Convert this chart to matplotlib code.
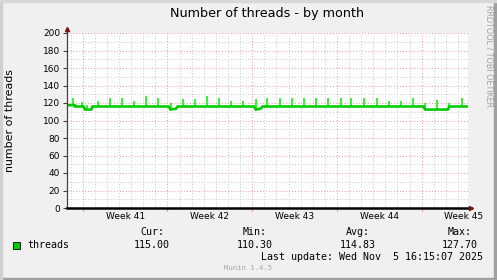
import numpy as np
import matplotlib
matplotlib.use("Agg")
import matplotlib.pyplot as plt
from matplotlib.patches import Rectangle

# time axis in days, 0 = start of week 41
week_numbers = [41, 42, 43, 44, 45]
x_range = (-1.30, 31.83)

# averaged thread count (piecewise line)
base_t = [-1.30, -0.65, -0.64, 0.05, 0.20, 0.70, 0.80, 7.10, 7.25, 7.70, 7.85,
          14.15, 14.30, 14.70, 14.85, 28.15, 28.30, 30.15, 30.30, 31.83]
base_v = [117.5, 117.5, 116.0, 116.0, 112.5, 112.5, 116.0, 116.0, 112.5, 113.5, 116.0,
          116.0, 112.5, 113.5, 116.0, 116.0, 112.5, 112.5, 116.0, 116.0]

# short daily peaks
spike_t = [-0.80, -0.06, 0.35, 1.26, 2.25, 3.25, 4.24, 5.23, 6.22, 7.30, 8.28, 9.27,
           10.27, 11.26, 12.25, 13.24, 14.30, 15.20, 16.30, 17.30, 18.30, 19.30, 20.30,
           21.30, 22.20, 23.20, 24.30, 25.30, 26.30, 27.30, 28.30, 29.30, 30.30, 31.30]
spike_v = [125.7, 121.0, 118.0, 122.3, 125.5, 125.5, 122.3, 127.7, 125.5, 120.0, 125.0, 125.0,
           127.5, 126.0, 122.0, 122.0, 124.6, 126.0, 126.0, 126.0, 126.0, 126.0, 126.0,
           126.0, 126.0, 126.0, 126.0, 122.6, 122.6, 126.0, 120.0, 124.0, 120.0, 126.0]

legend_cols = ["Cur:", "Min:", "Avg:", "Max:"]
legend_vals = ["115.00", "110.30", "114.83", "127.70"]

W, H = 497, 280
fig = plt.figure(figsize=(W / 100, H / 100), dpi=100, facecolor="#f0f0f0")

def px(x, y):
    return x / W, 1 - y / H

# frame
fig.add_artist(Rectangle((0, 0), 1, 2 / H, transform=fig.transFigure, color="#a0a0a0", zorder=0))
fig.add_artist(Rectangle((1 - 3 / W, 0), 3 / W, 1, transform=fig.transFigure, color="#a0a0a0", zorder=0))
fig.add_artist(Rectangle((0, 0), 2 / W, 1, transform=fig.transFigure, color="#d0d0d0", zorder=0))
fig.add_artist(Rectangle((0, 1 - 2 / H), 1, 2 / H, transform=fig.transFigure, color="#d8d8d8", zorder=0))

ax = fig.add_axes([67 / W, 72 / H, 401 / W, 175 / H])
ax.set_facecolor("white")
ax.set_xlim(*x_range)
ax.set_ylim(0, 200)
for s in ax.spines.values():
    s.set_visible(False)

# grid
days = np.arange(-1, 32)
weeks = np.arange(0, 29, 7)
for d in days:
    if d not in weeks:
        ax.axvline(d, color="#c8c8c8", lw=0.7, ls=(0, (1, 2)), zorder=1)
for wk in weeks:
    ax.axvline(wk, color="#eb9a9a", lw=0.7, ls=(0, (1, 2)), zorder=1)
for v in range(10, 201, 20):
    ax.axhline(v, color="#c8c8c8", lw=0.7, ls=(0, (1, 2)), zorder=1)
for v in range(20, 201, 20):
    ax.axhline(v, color="#eb9a9a", lw=0.7, ls=(0, (1, 2)), zorder=1)

ax.set_yticks(range(0, 201, 20))
ax.set_xticks(weeks)
ax.set_xticklabels([])
ax.tick_params(axis="y", length=3, width=0.8, color="#404040", labelsize=6.5, pad=2)
ax.tick_params(axis="x", length=2, width=0.8, color="#e08080")
for wk, n in zip(weeks, week_numbers):
    ax.text(wk + 3.5, -5, f"Week {n}", ha="center", va="top", fontsize=6.5,
            transform=ax.transData)

# data
base_at_spikes = np.interp(spike_t, base_t, base_v)
ax.vlines(spike_t, base_at_spikes, spike_v, color="#14f014", lw=1.2, zorder=3)
ax.plot(base_t, base_v, color="#00cc00", lw=1.9, zorder=4, solid_joinstyle="miter")

# axes with arrows
ax.plot([x_range[0], x_range[0]], [0, 205], color="#404040", lw=0.9, clip_on=False, zorder=5)
ax.plot([x_range[0]], [205], marker="^", color="#7a1414", ms=3, clip_on=False, zorder=6)
ax.plot([x_range[0], x_range[1] + 0.25], [0, 0], color="black", lw=1.8, clip_on=False, zorder=5)
ax.plot([x_range[1] + 0.25], [0], marker=">", color="#7a1414", ms=3, clip_on=False, zorder=6)

ax.set_ylabel("number of threads", fontsize=7.9)
ax.yaxis.set_label_coords(-52 / 401, 0.5)

fig.text(*px(267, 13), "Number of threads - by month", ha="center", va="center", fontsize=9.2)
fig.text(*px(489.5, 56.5), "RRDTOOL / TOBI OETIKER", rotation=270, ha="center", va="center",
         fontsize=5.8, color="#a0a0a0")

# legend
fig.add_artist(Rectangle(px(13, 249), 7 / W, 7 / H, transform=fig.transFigure,
                         facecolor="#00cc00", edgecolor="black", lw=0.6))
mono = dict(family="DejaVu Sans Mono", fontsize=7.2, va="center")
fig.text(*px(27, 244.5), "threads", ha="left", **mono)
col_x = [152, 255, 357.5, 460]
for cx, head, val in zip(col_x, legend_cols, legend_vals):
    fig.text(*px(cx, 232), head, ha="center", **mono)
    fig.text(*px(cx, 244.5), val, ha="center", **mono)
fig.text(*px(483, 257), "Last update: Wed Nov  5 16:15:07 2025", ha="right", **mono)
fig.text(*px(248, 268), "Munin 1.4.5", ha="center", va="center", family="DejaVu Sans Mono",
         fontsize=5.2, color="#a8a8a8")

fig.savefig("out.png", dpi=100, facecolor=fig.get_facecolor())
